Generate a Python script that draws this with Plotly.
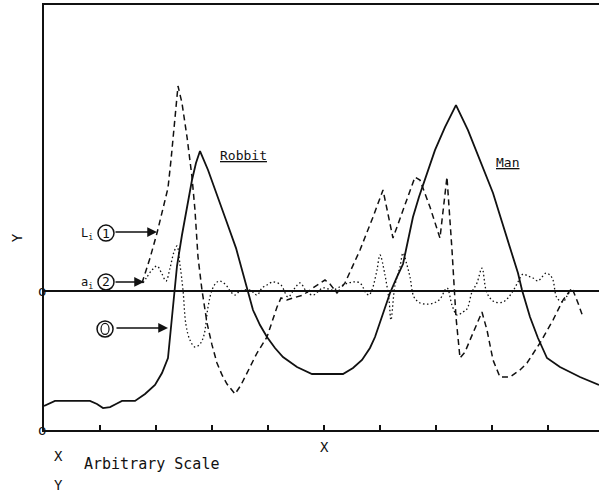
import plotly.graph_objects as go

# Arbitrary-scale abscissa and ordinate values for the three curves
solid_x = [0, 1.96, 8.21, 9.46, 10.54, 11.79, 12.86, 13.93, 16.25, 18.04, 19.82, 21.07,
           22.14, 22.68, 23.21, 23.75, 24.64, 25.54, 26.43, 27.14, 27.86, 29.29, 30.71,
           32.50, 34.29, 35.54, 36.25, 37.32, 38.57, 39.82, 41.25, 42.68, 45.18, 47.86,
           53.39, 55.18, 56.79, 58.21, 59.11, 60.00, 60.89, 61.79, 63.04, 64.11, 64.64,
           65.89, 66.96, 68.04, 69.82, 71.61, 73.57, 75.71, 77.86, 80.18, 81.79, 83.21,
           84.64, 85.36, 86.79, 88.21, 89.82, 92.14, 95.71, 99.11]
solid_y = [-8.27, -7.91, -7.91, -8.13, -8.42, -8.35, -8.13, -7.91, -7.91, -7.41, -6.76, -5.90,
           -4.82, -2.45, 0.0, 1.80, 4.03, 6.04, 7.99, 9.21, 10.07, 8.71, 7.05,
           5.11, 3.09, 1.29, 0.07, -1.37, -2.45, -3.31, -4.10, -4.75, -5.47, -5.97,
           -5.97, -5.54, -4.96, -4.10, -3.31, -2.30, -1.22, -0.14, 1.01, 1.94, 2.95,
           5.32, 6.76, 7.99, 10.14, 11.80, 13.38, 11.58, 9.42, 7.05, 4.96, 3.09,
           1.29, 0.07, -1.87, -3.38, -4.82, -5.47, -6.19, -6.76]

dashed_x = [17.50, 18.93, 20.18, 21.25, 22.14, 22.68, 23.21, 23.93, 24.64, 25.54, 26.43,
            26.96, 27.50, 28.21, 29.11, 30.00, 30.89, 31.79, 32.68, 34.11, 35.18, 36.25,
            38.04, 39.82, 41.61, 42.32, 43.39, 44.46, 46.25, 48.04, 50.18, 51.07, 52.32,
            53.75, 56.43, 58.75, 60.54, 62.32, 64.82, 66.25, 67.14, 68.93, 70.71, 71.96,
            72.86, 73.57, 74.29, 75.18, 76.07, 77.86, 78.21, 79.11, 80.18, 81.43, 83.21,
            85.00, 86.25, 88.57, 90.89, 92.68, 94.29, 95.36, 96.25]
dashed_y = [0.58, 2.37, 4.17, 5.83, 7.41, 9.42, 11.58, 14.75, 13.53, 11.08, 8.20,
            5.83, 2.45, 0.07, -2.30, -3.88, -5.18, -6.04, -6.69, -7.41, -6.76, -5.90,
            -4.46, -3.31, -1.15, -0.50, -0.65, -0.50, -0.29, 0.22, 0.79, 0.50, -0.14,
            0.58, 2.95, 5.32, 7.27, 3.81, 6.55, 8.20, 7.99, 6.04, 3.81, 8.20,
            2.95, -1.87, -4.82, -4.39, -3.53, -1.87, -1.51, -2.81, -4.96, -6.19, -6.19,
            -5.68, -5.18, -3.74, -2.09, -0.65, 0.22, -0.86, -1.87]

dotted_x = [17.68, 18.39, 19.29, 20.18, 21.07, 21.79, 22.50, 23.21, 23.75, 24.29, 24.82,
            25.36, 26.07, 26.96, 27.86, 28.57, 29.29, 30.00, 30.71, 31.43, 32.50, 33.39,
            34.11, 35.00, 36.79, 38.04, 38.93, 39.82, 40.89, 42.32, 43.57, 44.82, 45.71,
            46.96, 48.04, 49.82, 51.61, 53.39, 55.18, 56.43, 57.50, 58.04, 58.57, 59.46,
            60.00, 60.89, 61.61, 61.96, 62.68, 63.57, 64.11, 64.82, 65.36, 66.07, 67.14,
            68.39, 69.64, 70.71, 71.96, 72.86, 73.75, 74.82, 75.54, 76.43, 77.32, 78.21,
            78.93, 79.64, 80.54, 81.96, 82.86, 83.75, 84.64, 85.54, 86.43, 87.32, 88.21,
            88.93, 89.64, 90.36, 90.89, 91.61, 92.68, 93.39, 94.11]
dotted_y = [0.58, 1.01, 1.51, 1.80, 1.22, 0.72, 1.65, 2.81, 3.24, 1.87, 0.07,
            -2.45, -3.53, -4.03, -3.81, -3.17, -1.15, 0.07, 0.58, 0.72, 0.43, -0.07,
            -0.29, 0.0, 0.07, -0.29, 0.22, 0.43, 0.65, 0.43, -0.43, 0.22, 0.58,
            -0.07, -0.29, 0.22, 0.07, 0.43, 0.65, 0.58, -0.14, -0.29, 0.07, 1.51,
            2.59, 1.15, -0.65, -2.09, 0.43, 1.73, 2.73, 1.87, 1.01, -0.43, -0.86,
            -0.94, -0.86, -0.58, 0.22, -1.01, -1.73, -1.51, -1.29, -0.07, 0.58, 1.65,
            0.07, -0.50, -0.79, -0.79, -0.50, 0.0, 0.65, 1.22, 1.08, 0.94, 0.72,
            1.01, 1.29, 1.15, 0.79, -0.50, -0.79, -0.36, 0.07]

x_ticks = [10, 20, 30, 40, 50, 60, 70, 80, 90]
x_range = [0, 99.11]
y_range = [-10, 20.58]
baseline_marks = [0, -10]

FONT = "DejaVu Sans Mono"
INK = "#111111"

fig = go.Figure()
fig.add_trace(go.Scatter(x=solid_x, y=solid_y, mode="lines",
                         line=dict(color=INK, width=1.8)))
fig.add_trace(go.Scatter(x=dashed_x, y=dashed_y, mode="lines",
                         line=dict(color=INK, width=1.5, dash="6px,4px")))
fig.add_trace(go.Scatter(x=dotted_x, y=dotted_y, mode="lines", line_shape="spline",
                         line=dict(color=INK, width=1.3, dash="1.5px,2.5px")))

fig.update_layout(
    width=599, height=501,
    margin=dict(l=44, r=0, t=5, b=71),
    paper_bgcolor="white", plot_bgcolor="white",
    showlegend=False,
    font=dict(family=FONT, color=INK, size=14),
    xaxis=dict(range=x_range, showgrid=False, zeroline=False,
               showline=True, linecolor=INK, linewidth=1.5, mirror=True,
               ticks="inside", tickvals=x_ticks, ticklen=5, tickwidth=1.5,
               tickcolor=INK, showticklabels=False),
    yaxis=dict(range=y_range, showgrid=False, showline=True, linecolor=INK,
               linewidth=1.5, zeroline=True, zerolinecolor=INK, zerolinewidth=1.5,
               showticklabels=False, ticks=""),
)

ann = []
# "o" marks for the two baselines, just left of the ordinate axis
for yv in baseline_marks:
    ann.append(dict(x=-0.014, xref="paper", y=yv, yref="y", text="o", showarrow=False,
                    font=dict(size=14)))
# axis titles
ann.append(dict(x=-0.066, xref="paper", y=0.452, yref="paper", text="Y", textangle=-90,
                showarrow=False, font=dict(size=14)))
ann.append(dict(x=0.506, xref="paper", y=-0.064, yref="paper", text="X",
                showarrow=False, font=dict(size=14)))
# scale note
ann.append(dict(x=0.0144, xref="paper", y=-0.085, yref="paper", text="X",
                showarrow=False, font=dict(size=14)))
ann.append(dict(x=0.069, xref="paper", xanchor="left", y=-0.106, yref="paper",
                text="Arbitrary Scale", showarrow=False, font=dict(size=15)))
ann.append(dict(x=0.0144, xref="paper", y=-0.152, yref="paper", text="Y",
                showarrow=False, font=dict(size=14)))
# curve names
ann.append(dict(x=35.7, y=9.78, text="<u>Robbit</u>", showarrow=False, font=dict(size=13)))
ann.append(dict(x=82.7, y=9.28, text="<u>Man</u>", showarrow=False, font=dict(size=13)))

# circled curve keys with arrows
keys = [
    dict(cx=11.07, cy=4.17, num="1", lab="L<sub>i</sub>", tip=(20.18, 4.24), tail=(114 - 157)),
    dict(cx=11.07, cy=0.65, num="2", lab="a<sub>i</sub>", tip=(17.86, 0.65), tail=(114 - 144)),
    dict(cx=10.9, cy=-2.73, num="0", lab=None, tip=(22.14, -2.66), tail=(115 - 168)),
]
shapes = []
for k in keys:
    r = 8
    shapes.append(dict(type="circle", xref="x", yref="y", xsizemode="pixel", ysizemode="pixel",
                       xanchor=k["cx"], yanchor=k["cy"], x0=-r, x1=r, y0=-r, y1=r,
                       line=dict(color=INK, width=1.5)))
    if k["num"] == "0":
        # zero drawn as an oval inside the ring
        shapes.append(dict(type="circle", xref="x", yref="y", xsizemode="pixel", ysizemode="pixel",
                           xanchor=k["cx"], yanchor=k["cy"], x0=-4, x1=4, y0=-5.5, y1=5.5,
                           line=dict(color=INK, width=1.2)))
    else:
        ann.append(dict(x=k["cx"], y=k["cy"], text=k["num"], showarrow=False,
                        font=dict(size=13)))
        ann.append(dict(x=k["cx"], y=k["cy"], xshift=-19, yshift=-1, text=k["lab"],
                        showarrow=False, font=dict(size=12)))
    ann.append(dict(x=k["tip"][0], y=k["tip"][1], text="", showarrow=True,
                    ax=k["tail"], ay=0, arrowhead=2, arrowsize=1.3, arrowwidth=1.5,
                    arrowcolor=INK, startstandoff=0, standoff=0))

fig.update_layout(annotations=ann, shapes=shapes)
fig.write_html("out.html")
